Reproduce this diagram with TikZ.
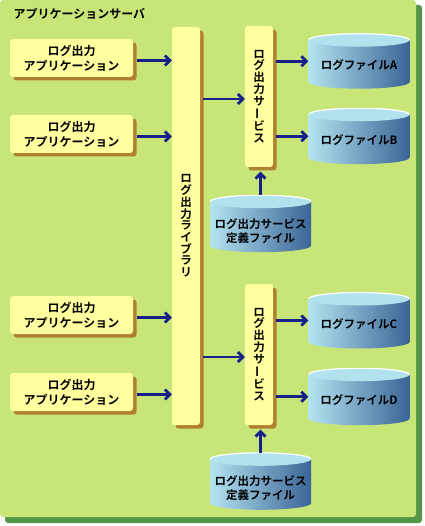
\documentclass[tikz,border=0pt]{standalone}
\usepackage{fontspec}
\setmainfont{Noto Sans CJK JP}[BoldFont={Noto Sans CJK JP Bold}]
\usetikzlibrary{arrows.meta,shadows}
\definecolor{bgcol}{RGB}{200,230,120}
\definecolor{bgshade}{RGB}{84,150,72}
\definecolor{boxcol}{RGB}{255,255,160}
\definecolor{boxshade}{RGB}{176,128,48}
\definecolor{arrowcol}{RGB}{24,32,140}
\definecolor{cylLeft}{RGB}{180,228,240}
\definecolor{cylRight}{RGB}{58,100,150}
\definecolor{cylTop}{RGB}{178,226,238}

\begin{document}
\begin{tikzpicture}[x=1pt, y=-1pt, >={Straight Barb[length=5pt,width=10pt]},
		boxshadow/.style={drop shadow={shadow xshift=3.5pt, shadow yshift=-3.5pt, fill=boxshade, opacity=1}},
		appbox/.style={rectangle, rounded corners=3pt, fill=boxcol, boxshadow, minimum width=123pt,
				minimum height=38pt, inner sep=0pt, align=center, font=\fontsize{12}{15}\selectfont\bfseries},
		barbox/.style={rectangle, rounded corners=3pt, fill=boxcol, boxshadow, minimum width=28pt,
				inner sep=0pt, align=center, font=\fontsize{11.5}{11.7}\selectfont\bfseries},
		cylbody/.style={inner sep=0pt, minimum width=101pt, path picture={
						\shade[left color=cylLeft, right color=cylRight]
						([yshift=-\cylR]path picture bounding box.north west) --
						([yshift=\cylR]path picture bounding box.south west)
						arc[start angle=180, end angle=360, x radius=50.5pt, y radius=\cylR] --
						([yshift=-\cylR]path picture bounding box.north east) -- cycle;
						\fill[cylTop] ([yshift=-\cylR]path picture bounding box.north)
						ellipse[x radius=50.5pt, y radius=\cylR];
						\draw[white, line width=1.2pt] ([yshift=-\cylR]path picture bounding box.north east)
						arc[start angle=0, end angle=180, x radius=50.5pt, y radius=\cylR];
					}},
		cyltext/.style={font=\fontsize{11.5}{14}\selectfont\bfseries, align=center},
		flow/.style={arrowcol, line width=2.8pt, ->}]

	% --- Parameters ---
	\def\cylR{6.5pt}   % half height of the cylinder ends

	\useasboundingbox (0,0) rectangle (424,526);

	% =============================================
	%  SERVER AREA
	% =============================================
	\fill[bgshade, rounded corners=3pt] (5,5) rectangle (422,523);
	\fill[bgcol, rounded corners=3pt] (0,0) rectangle (416,517);
	\node[anchor=west, font=\fontsize{12}{14}\selectfont\bfseries] (title) at (10,13.5)
	{アプリケーションサーバ};

	% =============================================
	%  APPLICATIONS AND LIBRARY
	% =============================================
	\node[barbox, minimum height=398pt] (lib) at (186,226)
	{ロ\\グ\\出\\力\\ラ\\イ\\ブ\\ラ\\リ};

	\foreach \i/\y in {1/58, 2/134, 3/315, 4/392} {
			\node[appbox] (app\i) at (71.5,\y) {ログ出力\\アプリケーション};
			\coordinate (out\i) at ([yshift=-2.5pt]app\i.east);
			\draw[flow, shorten <=4pt] (out\i) -- (out\i -| lib.west);
		}

	% =============================================
	%  LOG OUTPUT SERVICES
	% =============================================
	\node[barbox, minimum height=141pt] (svc1) at (259,96.5)
	{ロ\\グ\\出\\力\\サ\\\rotatebox[origin=c]{90}{ー}\\ビ\\ス};
	\node[barbox, minimum height=141pt] (svc2) at (259,354.5)
	{ロ\\グ\\出\\力\\サ\\\rotatebox[origin=c]{90}{ー}\\ビ\\ス};

	\coordinate (in1) at ([yshift=-2.5pt]svc1.west);
	\coordinate (in2) at ([yshift=-2.5pt]svc2.west);
	\draw[flow, shorten <=3pt] (in1 -| lib.east) -- (in1);
	\draw[flow, shorten <=3pt] (in2 -| lib.east) -- (in2);

	% =============================================
	%  LOG FILES
	% =============================================
	\node[cylbody, minimum height=55pt, label={[cyltext, yshift=-3.5pt]center:ログファイルA}] (fileA) at (359,61.2) {};
	\node[cylbody, minimum height=56pt, label={[cyltext, yshift=-3.5pt]center:ログファイルB}] (fileB) at (359,136.2) {};
	\node[cylbody, minimum height=56pt, label={[cyltext, yshift=-3.5pt]center:ログファイルC}] (fileC) at (359,320.5) {};
	\node[cylbody, minimum height=57pt, label={[cyltext, yshift=-3.5pt]center:ログファイルD}] (fileD) at (359,396.7) {};

	\draw[flow, shorten <=3pt] (svc1.east |- fileA.west) -- (fileA.west);
	\draw[flow, shorten <=3pt] (svc1.east |- fileB.west) -- (fileB.west);
	\draw[flow, shorten <=3pt] (svc2.east |- fileC.west) -- (fileC.west);
	\draw[flow, shorten <=3pt] (svc2.east |- fileD.west) -- (fileD.west);

	% =============================================
	%  SERVICE DEFINITION FILES
	% =============================================
	\node[cylbody, minimum height=57pt, label={[cyltext, yshift=-7pt]center:ログ出力サービス\\定義ファイル}] (def1) at (260.5,223.7) {};
	\node[cylbody, minimum height=57pt, label={[cyltext, yshift=-7pt]center:ログ出力サービス\\定義ファイル}] (def2) at (260.5,481.3) {};

	\draw[flow, shorten >=4.5pt] (def1.north) -- (def1.north |- svc1.south);
	\draw[flow, shorten >=4.5pt] (def2.north) -- (def2.north |- svc2.south);

\end{tikzpicture}
\end{document}
